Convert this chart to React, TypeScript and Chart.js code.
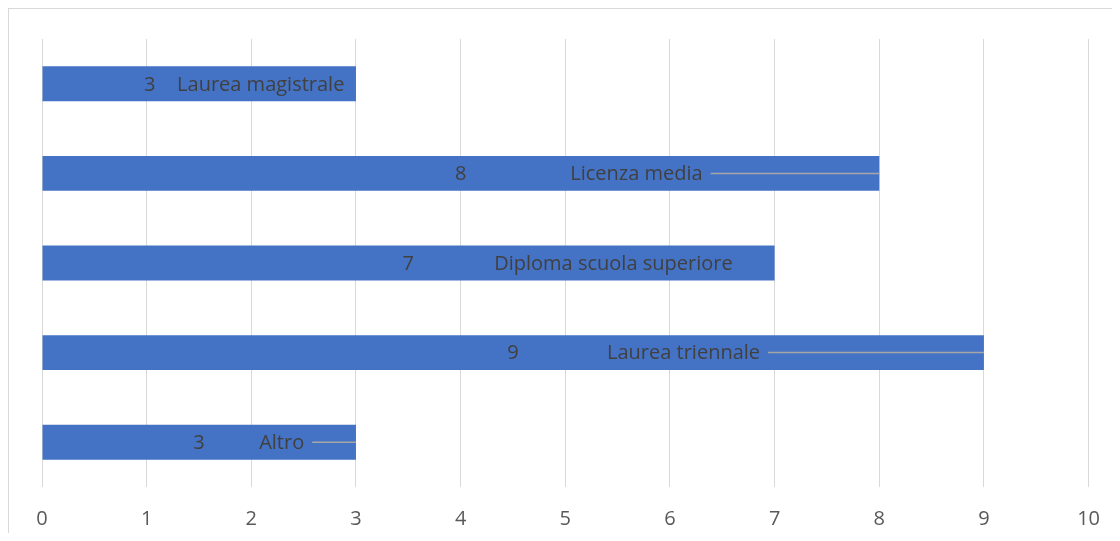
import React, { useEffect, useRef } from "react";
import { Chart, registerables } from "chart.js";

Chart.register(...registerables);

const categories = ["Laurea magistrale", "Licenza media", "Diploma scuola superiore", "Laurea triennale", "Altro"];
const values = [3, 8, 7, 9, 3];
// label anchor positions (data units)
const valueLabelX = [1.03, 4, 3.5, 4.5, 1.5];
const nameLabelX = [2.09, 5.68, 5.46, 6.13, 2.29];
const showLeader = [false, true, false, true, true];
const xTicks = [0, 1, 2, 3, 4, 5, 6, 7, 8, 9, 10];

const FONT = "'Open Sans', 'Liberation Sans', sans-serif";

const labelPlugin = {
  id: "barLabels",
  afterDatasetsDraw(chart: any) {
    const { ctx, scales } = chart;
    const meta = chart.getDatasetMeta(0);
    const xs = scales.x;
    ctx.save();
    ctx.font = `20px ${FONT}`;
    ctx.fillStyle = "#404040";
    ctx.textBaseline = "middle";
    ctx.textAlign = "center";
    meta.data.forEach((bar: any, i: number) => {
      const y = bar.y;
      const vx = xs.getPixelForValue(valueLabelX[i]);
      ctx.fillText(String(values[i]), vx, y + 1);
      const nx = xs.getPixelForValue(nameLabelX[i]);
      ctx.fillText(categories[i], nx, y + 1);
      const w = ctx.measureText(categories[i]).width;
      const start = nx + w / 2 + 8;
      const end = xs.getPixelForValue(values[i]);
      if (showLeader[i] && end > start) {
        ctx.strokeStyle = "#a6a6a6";
        ctx.lineWidth = 1.5;
        ctx.beginPath();
        ctx.moveTo(start, y);
        ctx.lineTo(end, y);
        ctx.stroke();
      }
    });
    ctx.restore();
  },
};

export default function App() {
  const ref = useRef<HTMLCanvasElement>(null);
  useEffect(() => {
    if (!ref.current) return;
    const chart = new Chart(ref.current, {
      type: "bar",
      data: {
        labels: categories,
        datasets: [
          {
            data: values,
            backgroundColor: "#4472C4",
            borderWidth: 0,
            barPercentage: 0.39,
            categoryPercentage: 1,
          },
        ],
      },
      options: {
        indexAxis: "y",
        animation: false,
        responsive: false,
        maintainAspectRatio: false,
        layout: { padding: { left: 33, right: 25, top: 30, bottom: 0 } },
        plugins: { legend: { display: false }, tooltip: { enabled: false } },
        scales: {
          x: {
            min: 0,
            max: 10,
            afterBuildTicks: (axis: any) => {
              axis.ticks = xTicks.map((v) => ({ value: v }));
            },
            afterFit: (axis: any) => {
              axis.height = 62;
            },
            grid: { color: "#d9d9d9", lineWidth: 1, drawTicks: false },
            border: { display: false },
            ticks: {
              padding: 20,
              color: "#595959",
              font: { family: FONT, size: 20 },
            },
          },
          y: { display: false },
        },
      },
      plugins: [labelPlugin],
    });
    return () => chart.destroy();
  }, []);
  return (
    <div
      style={{
        width: 1111,
        height: 524,
        overflow: "hidden",
        borderLeft: "1px solid #d9d9d9",
        borderTop: "1px solid #d9d9d9",
        background: "#fff",
      }}
    >
      <canvas ref={ref} width={1111} height={540} style={{ display: "block" }} />
    </div>
  );
}
